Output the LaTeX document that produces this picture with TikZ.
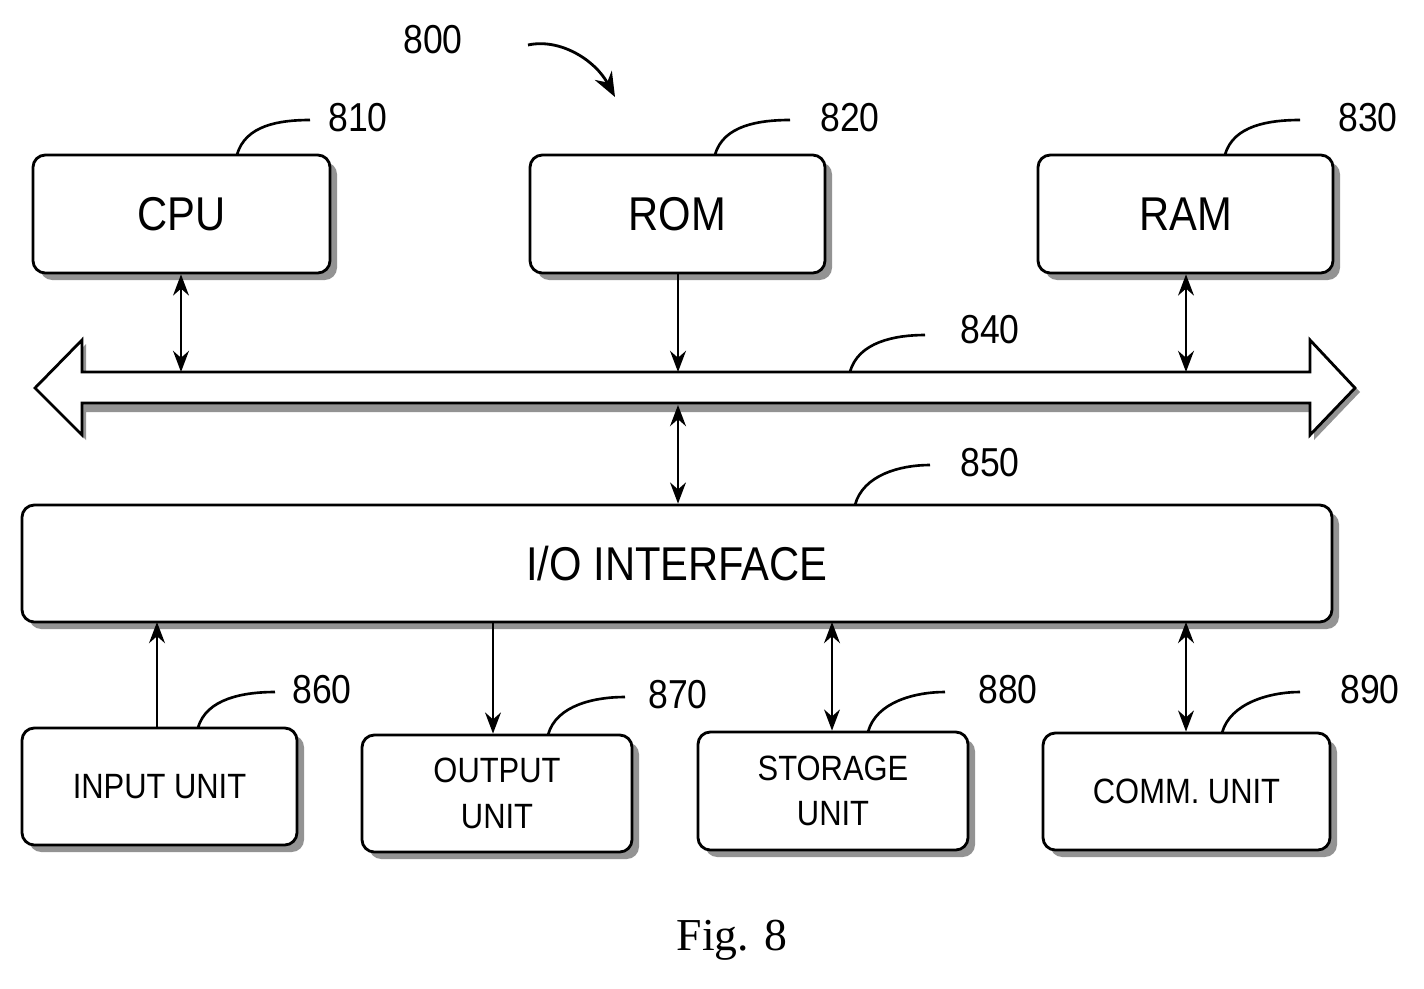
\documentclass[tikz,border=0pt]{standalone}
\usepackage{fontspec}
\setsansfont[FakeStretch=0.88]{Liberation Sans}
\setmainfont{Liberation Serif}
\usetikzlibrary{shadows,arrows.meta}
\begin{document}
\begin{tikzpicture}[x=0.02cm,y=-0.02cm,
 box/.style={draw,line width=1.6pt,rounded corners=7pt,fill=white,drop shadow={shadow xshift=4pt,shadow yshift=-4pt,fill=gray!85,opacity=1}},
 lbl/.style={font=\sffamily\fontsize{23}{26}\selectfont},
 big/.style={font=\sffamily\fontsize{27}{30}\selectfont},
 sm/.style={font=\sffamily\fontsize{20}{26}\selectfont,align=center},
 lead/.style={line width=1.5pt},
 arr/.style={line width=1.6pt,-{Stealth[length=12pt,width=9pt]}},
 darr/.style={line width=1.6pt,{Stealth[length=12pt,width=9pt]}-{Stealth[length=12pt,width=9pt]}}]
\useasboundingbox (0,0) rectangle (1424,988);
% boxes
\node[box,minimum width=297*0.02cm,minimum height=118*0.02cm,big] (cpu) at (181.5,214) {CPU};
\node[box,minimum width=295*0.02cm,minimum height=118*0.02cm,big] (rom) at (677.5,214) {ROM};
\node[box,minimum width=295*0.02cm,minimum height=118*0.02cm,big] (ram) at (1185.5,214) {RAM};
\node[box,minimum width=1310*0.02cm,minimum height=117*0.02cm,big] (io) at (677,563.5) {I/O INTERFACE};
\node[box,minimum width=275*0.02cm,minimum height=117*0.02cm,sm] (in) at (159.5,786.5) {INPUT UNIT};
\node[box,minimum width=270*0.02cm,minimum height=117*0.02cm,sm] (out) at (497,793.5) {OUTPUT\\UNIT};
\node[box,minimum width=270*0.02cm,minimum height=118*0.02cm,sm] (sto) at (833,791) {STORAGE\\UNIT};
\node[box,minimum width=287*0.02cm,minimum height=117*0.02cm,sm] (com) at (1186.5,791.5) {COMM. UNIT};
% bus
\fill[gray!85] (39,392) -- (86,344) -- (86,376) -- (1314,376) -- (1314,344) -- (1360,392) -- (1314,440) -- (1314,412) -- (86,412) -- (86,440) -- cycle;
\draw[line width=1.6pt,fill=white] (35,388) -- (82,340) -- (82,372) -- (1310,372) -- (1310,340) -- (1355,388) -- (1310,435) -- (1310,403) -- (82,403) -- (82,435) -- cycle;
\coordinate (b1) at (181,372); \coordinate (b2) at (678,372); \coordinate (b3) at (1186,372);
\coordinate (b4) at (678,405);
\draw[darr] (cpu.south -| b1) -- (b1);
\draw[arr] (rom.south -| b2) -- (b2);
\draw[darr] (ram.south -| b3) -- (b3);
\draw[darr] (b4) -- (io.north -| b4);
\coordinate (c1) at (157,622); \coordinate (c2) at (493,622); \coordinate (c3) at (832,622); \coordinate (c4) at (1186,622);
\draw[arr] (in.north -| c1) -- (c1);
\draw[arr] (c2) -- (out.north -| c2);
\draw[darr] (c3) -- (sto.north -| c3);
\draw[darr] (c4) -- (com.north -| c4);
% labels
\node[lbl] (l810) at (358,118) {810};
\node[lbl] (l820) at (850,118) {820};
\node[lbl] (l830) at (1368,118) {830};
\node[lbl] (l840) at (990,330) {840};
\node[lbl] (l850) at (990,463) {850};
\node[lbl] (l860) at (322,690) {860};
\node[lbl] (l870) at (678,695) {870};
\node[lbl] (l880) at (1008,690) {880};
\node[lbl] (l890) at (1370,690) {890};
\node[lbl] (l800) at (433,40) {800};
\draw[lead] (237,155) .. controls (245,125) and (280,120) .. (310,120);
\draw[lead] (715,155) .. controls (723,125) and (760,120) .. (790,120);
\draw[lead] (1225,155) .. controls (1233,125) and (1270,120) .. (1300,120);
\draw[lead] (850,372) .. controls (858,342) and (895,335) .. (925,335);
\draw[lead] (855,505) .. controls (863,475) and (900,465) .. (930,465);
\draw[lead] (198,728) .. controls (206,698) and (245,692) .. (275,692);
\draw[lead] (548,735) .. controls (556,705) and (595,697) .. (625,697);
\draw[lead] (868,732) .. controls (876,702) and (915,692) .. (945,692);
\draw[lead] (1222,733) .. controls (1230,703) and (1270,692) .. (1300,692);
\draw[line width=1.6pt,-{Stealth[length=14pt,width=11pt]}] (528,45) .. controls (560,38) and (595,60) .. (615,97);
\node[font=\rmfamily\fontsize{26}{30}\selectfont] (fig) at (732,940) {Fig. 8};
\end{tikzpicture}
\end{document}
